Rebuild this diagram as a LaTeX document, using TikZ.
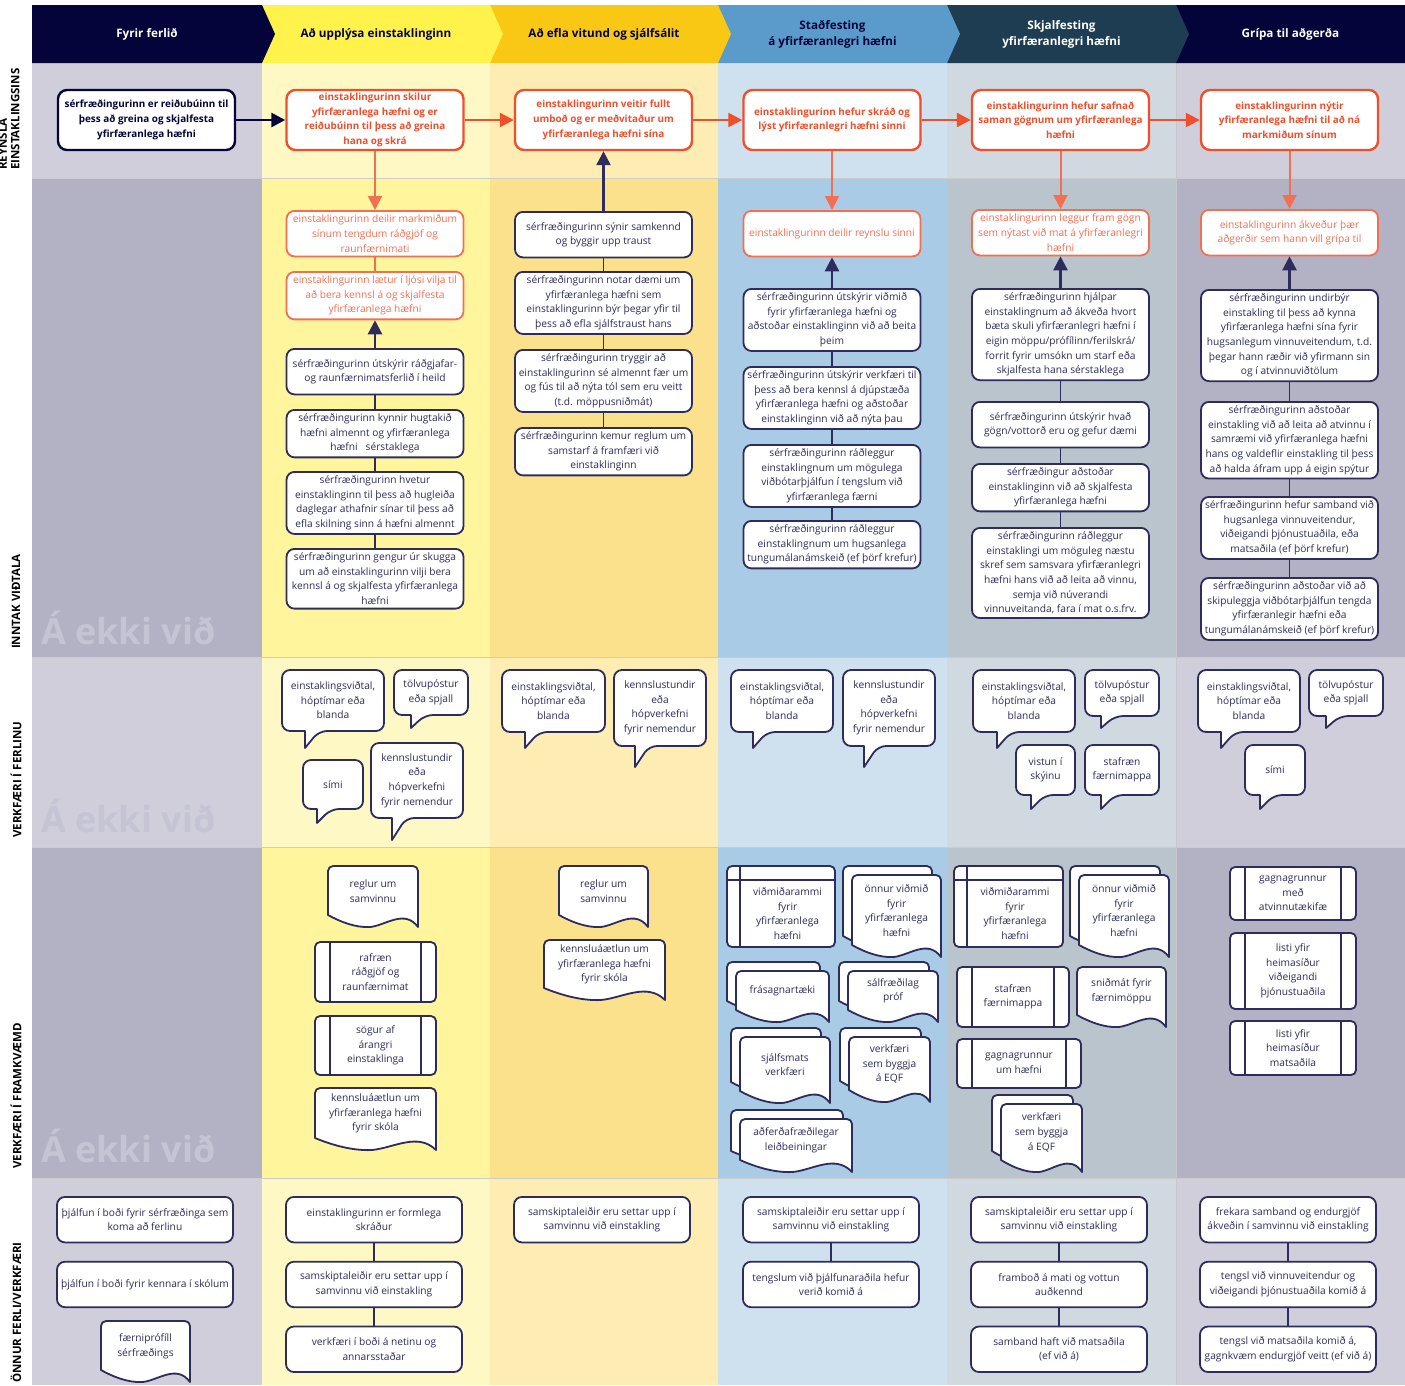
\documentclass[tikz,border=0pt]{standalone}
\usepackage{fontspec}
\setmainfont{Open Sans}
\usetikzlibrary{arrows.meta, positioning, calc}

\definecolor{navy}{HTML}{2D2C5C}
\definecolor{headnavy}{HTML}{04043A}
\definecolor{headyellow}{HTML}{FFF34B}
\definecolor{headgold}{HTML}{F9C814}
\definecolor{headblue}{HTML}{5B9BCB}
\definecolor{headteal}{HTML}{1E3D52}
\definecolor{orangedark}{HTML}{F04F2C}
\definecolor{orangelight}{HTML}{F36F52}
\definecolor{lavA}{HTML}{CFCEDA}
\definecolor{lavB}{HTML}{B3B2C4}
\definecolor{yelA}{HTML}{FEF9C4}
\definecolor{yelB}{HTML}{FEF59D}
\definecolor{goldA}{HTML}{FDEDB2}
\definecolor{goldB}{HTML}{FBE18B}
\definecolor{blueA}{HTML}{CFE1EF}
\definecolor{blueB}{HTML}{AACBE6}
\definecolor{slateA}{HTML}{D0D9DF}
\definecolor{slateB}{HTML}{BAC4CC}
\definecolor{nagray}{HTML}{C5C4D4}

\tikzset{
    startnode/.style={rectangle, rounded corners=9pt, draw=headnavy, fill=white, line width=2.4pt, text=headnavy, minimum width=177pt, minimum height=60pt, inner xsep=1pt, inner ysep=2pt, align=center, font=\fontsize{9.9}{14.7}\selectfont\bfseries},
    goalnode/.style={startnode, draw=orangedark, text=orangedark},
    sharenode/.style={rectangle, rounded corners=8pt, draw=orangelight, fill=white, line width=1.8pt, text=orangelight, minimum width=177pt, minimum height=45.5pt, inner xsep=1pt, inner ysep=4pt, align=center, font=\fontsize{10.2}{14.6}\selectfont, anchor=north},
    navynode/.style={sharenode, draw=navy, text=navy},
    toolline/.style={draw=navy, fill=white, line width=1.8pt, line join=round},
    tooledge/.style={draw=navy, line width=1.8pt},
    tooltext/.style={text=navy, align=center, inner sep=0pt, font=\fontsize{10.2}{14.6}\selectfont},
    myarrow/.style={-{Triangle[length=14pt, width=14pt]}, line width=2.4pt},
    mylink/.style={draw=navy, line width=1.8pt},
    mylabel/.style={rotate=90, anchor=west, inner sep=0pt, font=\fontsize{11.5}{12.5}\selectfont\bfseries},
    headlabel/.style={align=center, font=\fontsize{11.7}{16}\selectfont\bfseries},
    nalabel/.style={anchor=base west, inner sep=0pt, text=nagray, font=\fontsize{36}{40}\selectfont\bfseries}
}

% document shape: x1, y1, x2, y2 (bottom corner)
\newcommand{\docshape}[4]{%
  \pgfmathsetmacro\wA{#1+0.85*(#3-#1)}%
  \pgfmathsetmacro\wB{#1+0.65*(#3-#1)}%
  \pgfmathsetmacro\wC{#1+0.47*(#3-#1)}%
  \pgfmathsetmacro\wD{#1+0.30*(#3-#1)}%
  \pgfmathsetmacro\wE{#1+0.12*(#3-#1)}%
  \draw[toolline] (#1,#4-12) [rounded corners=5pt] -- (#1,#2) -- (#3,#2) -- (#3,#4-10) [sharp corners] -- (#3,#4)
    .. controls (\wA,#4-18) and (\wB,#4-2) .. (\wC,#4)
    .. controls (\wD,#4+1) and (\wE,#4-6) .. (#1,#4-12) -- cycle;}
\newcommand{\docnode}[6]{%
  \docshape{#2}{#3}{#4}{#5}%
  \node[tooltext] (#1) at ({(#2+#4)/2},{(#3+#5-11)/2}) {#6};}
\newcommand{\multinode}[6]{%
  \pgfmathsetmacro\mxa{#2+9}\pgfmathsetmacro\mya{#3+9}%
  \pgfmathsetmacro\mxb{#4-9}\pgfmathsetmacro\myb{#5-9}%
  \docshape{#2}{#3}{\mxb}{\myb}%
  \docshape{\mxa}{\mya}{#4}{#5}%
  \node[tooltext] (#1) at ({(\mxa+#4)/2},{(\mya+#5-11)/2}) {#6};}
\newcommand{\procnode}[6]{%
  \draw[toolline, rounded corners=5pt] (#2,#3) rectangle (#4,#5);
  \draw[tooledge] (#2+15,#3) -- (#2+15,#5) (#4-15,#3) -- (#4-15,#5);
  \node[tooltext] (#1) at ({(#2+#4)/2},{(#3+#5)/2}) {#6};}
\newcommand{\storenode}[6]{%
  \draw[toolline, rounded corners=5pt] (#2,#3) rectangle (#4,#5);
  \draw[tooledge] (#2,#3+14) -- (#4,#3+14) (#2+13,#3) -- (#2+13,#5);
  \node[tooltext] (#1) at ({(#2+13+#4)/2},{(#3+14+#5)/2}) {#6};}
\newcommand{\bubblenode}[8]{%
  \draw[toolline] (#6,#5) [rounded corners=8pt] -- (#2,#5) -- (#2,#3) -- (#4,#3) -- (#4,#5) -- ({#6+14},#5) [sharp corners] -- (#6,#7) -- cycle;
  \node[tooltext] (#1) at ({(#2+#4)/2},{(#3+#5)/2}) {#8};}

\begin{document}
\begin{tikzpicture}[x=1pt, y=-1pt, node distance=17.5pt]
    \useasboundingbox (0,0) rectangle (1405,1385);

        % ------------------
        % lanes
        % ------------------

        \foreach \xa/\xb/\ca/\cb in {32/262/lavA/lavB, 262/490/yelA/yelB, 490/718/goldA/goldB, 718/947/blueA/blueB, 947/1176/slateA/slateB, 1176/1405/lavA/lavB}{
            \fill[\ca] (\xa,63) rectangle (\xb,178);
            \fill[\cb] (\xa,178) rectangle (\xb,657);
            \fill[\ca] (\xa,657) rectangle (\xb,847);
            \fill[\cb] (\xa,847) rectangle (\xb,1178);
            \fill[\ca] (\xa,1178) rectangle (\xb,1385);
        }
        \foreach \yy in {178,657,847,1178}
            \draw[black!20, line width=.6pt] (32,\yy) -- (1405,\yy);
        \draw[black!22, line width=.6pt] (1176,63) -- (1176,1385);

        \foreach \i/\xa/\xb/\hcol/\tcol/\htext in {5/1176/1405/headnavy/white/{Grípa til aðgerða}, 4/947/1176/headteal/white/{Skjalfesting\\yfirfæranlegri hæfni}, 3/718/947/headblue/headnavy/{Staðfesting\\á yfirfæranlegri hæfni}, 2/490/718/headgold/headnavy/{Að efla vitund og sjálfsálit}, 1/262/490/headyellow/headnavy/{Að upplýsa einstaklinginn}, 0/32/262/headnavy/white/{Fyrir ferlið}}{
            \fill[\hcol] (\xa,5) -- (\xb,5) -- (\xb+13,34) -- (\xb,63) -- (\xa,63) -- cycle;
            \node[headlabel, text=\tcol] (h\i) at ({(\xa+\xb)/2},34) {\htext};
        }

        \node[mylabel, align=left] (lab1) at (9,170) {REYNSLA\\EINSTAKLINGSINS};
        \node[mylabel] (lab2) at (16,649) {INNTAK VIÐTALA};
        \node[mylabel] (lab3) at (16,838) {VERKFÆRI Í FERLINU};
        \node[mylabel] (lab4) at (16,1169) {VERKFÆRI Í FRAMKVÆMD};
        \node[mylabel] (lab5) at (16,1383) {ÖNNUR FERLI/VERKFÆRI};

        \node[nalabel] (na2) at (41,644) {Á ekki við};
        \node[nalabel] (na3) at (41,832) {Á ekki við};
        \node[nalabel] (na4) at (41,1162) {Á ekki við};

        % ------------------
        % nodes
        % ------------------

        \node[startnode] (start) at (146.5,120) {sérfræðingurinn er reiðubúinn til\\þess að greina og skjalfesta\\yfirfæranlega hæfni};
        \node[goalnode] (goal1) at (375,120) {einstaklingurinn skilur\\yfirfæranlega hæfni og er\\reiðubúinn til þess að greina\\hana og skrá};
        \node[goalnode] (goal2) at (603.5,120) {einstaklingurinn veitir fullt\\umboð og er meðvitaður um\\yfirfæranlega hæfni sína};
        \node[goalnode] (goal3) at (832,120) {einstaklingurinn hefur skráð og\\lýst yfirfæranlegri hæfni sinni};
        \node[goalnode] (goal4) at (1060.5,120) {einstaklingurinn hefur safnað\\saman gögnum um yfirfæranlega\\hæfni};
        \node[goalnode] (goal5) at (1289.5,120) {einstaklingurinn nýtir\\yfirfæranlega hæfni til að ná\\markmiðum sínum};

        \node[sharenode] (share1a) at (375,210) {einstaklingurinn deilir markmiðum\\sínum tengdum ráðgjöf og\\raunfærnimati};
        \node[sharenode] (share1b) at (375,271) {einstaklingurinn lætur í ljósi vilja til\\að bera kennsl á og skjalfesta\\yfirfæranlega hæfni};
        \node[navynode] (step11) at (375,348) {sérfræðingurinn útskýrir ráðgjafar-\\og raunfærnimatsferlið í heild};
        \node[navynode] (step12) at (375,409) {sérfræðingurinn kynnir hugtakið\\hæfni almennt og yfirfæranlega\\hæfni~~~sérstaklega};
        \node[navynode] (step13) at (375,471) {sérfræðingurinn hvetur\\einstaklinginn til þess að hugleiða\\daglegar athafnir sínar til þess að\\efla skilning sinn á hæfni almennt};
        \node[navynode] (step14) at (375,548) {sérfræðingurinn gengur úr skugga\\um að einstaklingurinn vilji bera\\kennsl á og skjalfesta yfirfæranlega\\hæfni};

        \node[navynode] (step21) at (603.5,211) {sérfræðingurinn sýnir samkennd\\og byggir upp traust};
        \node[navynode] (step22) at (603.5,271) {sérfræðingurinn notar dæmi um\\yfirfæranlega hæfni sem\\einstaklingurinn býr þegar yfir til\\þess að efla sjálfstraust hans};
        \node[navynode] (step23) at (603.5,349) {sérfræðingurinn tryggir að\\einstaklingurinn sé almennt fær um\\og fús til að nýta tól sem eru veitt\\(t.d. möppusniðmát)};
        \node[navynode] (step24) at (603.5,427) {sérfræðingurinn kemur reglum um\\samstarf á framfæri við\\einstaklinginn};

        \node[sharenode] (share3) at (832,210) {einstaklingurinn deilir reynslu sinni};
        \node[navynode] (step31) at (832,288) {sérfræðingurinn útskýrir viðmið\\fyrir yfirfæranlega hæfni og\\aðstoðar einstaklinginn við að beita\\þeim};
        \node[navynode] (step32) at (832,366) {sérfræðingurinn útskýrir verkfæri til\\þess að bera kennsl á djúpstæða\\yfirfæranlega hæfni og aðstoðar\\einstaklinginn við að nýta þau};
        \node[navynode] (step33) at (832,444) {sérfræðingurinn ráðleggur\\einstaklingnum um mögulega\\viðbótarþjálfun í tengslum við\\yfirfæranlega færni};
        \node[navynode] (step34) at (832,520) {sérfræðingurinn ráðleggur\\einstaklingnum um hugsanlega\\tungumálanámskeið (ef þörf krefur)};

        \node[sharenode] (share4) at (1060.5,209) {einstaklingurinn leggur fram gögn\\sem nýtast við mat á yfirfæranlegri\\hæfni};
        \node[navynode] (step41) at (1060.5,288) {sérfræðingurinn hjálpar\\einstaklingnum að ákveða hvort\\bæta skuli yfirfæranlegri hæfni í\\eigin möppu/prófílinn/ferilskrá/\\forrit fyrir umsókn um starf eða\\skjalfesta hana sérstaklega};
        \node[navynode] (step42) at (1060.5,401) {sérfræðingurinn útskýrir hvað\\gögn/vottorð eru og gefur dæmi};
        \node[navynode] (step43) at (1060.5,463) {sérfræðingur aðstoðar\\einstaklinginn við að skjalfesta\\yfirfæranlega hæfni};
        \node[navynode] (step44) at (1060.5,527) {sérfræðingurinn ráðleggur\\einstaklingi um möguleg næstu\\skref sem samsvara yfirfæranlegri\\hæfni hans við að leita að vinnu,\\semja við núverandi\\vinnuveitanda, fara í mat o.s.frv.};

        \node[sharenode] (share5) at (1289.5,209) {einstaklingurinn ákveður þær\\aðgerðir sem hann vill grípa til};
        \node[navynode] (step51) at (1289.5,289) {sérfræðingurinn undirbýr\\einstakling til þess að kynna\\yfirfæranlega hæfni sína fyrir\\hugsanlegum vinnuveitendum, t.d.\\þegar hann ræðir við yfirmann sin\\og í atvinnuviðtölum};
        \node[navynode] (step52) at (1289.5,401) {sérfræðingurinn aðstoðar\\einstakling við að leita að atvinnu í\\samræmi við yfirfæranlega hæfni\\hans og valdeflir einstakling til þess\\að halda áfram upp á eigin spýtur};
        \node[navynode] (step53) at (1289.5,496) {sérfræðingurinn hefur samband við\\hugsanlega vinnuveitendur,\\viðeigandi þjónustuaðila, eða\\matsaðila (ef þörf krefur)};
        \node[navynode] (step54) at (1289.5,577) {sérfræðingurinn aðstoðar við að\\skipuleggja viðbótarþjálfun tengda\\yfirfæranlegir hæfni eða\\tungumálanámskeið (ef þörf krefur)};

        % tools in the process
        \bubblenode{talk11}{282}{670}{384}{731}{305}{748}{einstaklingsviðtal,\\hóptímar eða\\blanda}
        \bubblenode{talk12}{394}{670}{468}{715}{411}{728}{tölvupóstur\\eða spjall}
        \bubblenode{talk13}{303}{760}{363}{809}{317}{823}{sími}
        \bubblenode{talk14}{371}{743}{463}{818}{392}{840}{kennslustundir\\eða\\hópverkefni\\fyrir nemendur}
        \bubblenode{talk21}{502}{670}{605}{732}{525}{748}{einstaklingsviðtal,\\hóptímar eða\\blanda}
        \bubblenode{talk22}{614}{670}{706}{746}{635}{767}{kennslustundir\\eða\\hópverkefni\\fyrir nemendur}
        \bubblenode{talk31}{731}{670}{833}{732}{753}{748}{einstaklingsviðtal,\\hóptímar eða\\blanda}
        \bubblenode{talk32}{843}{670}{935}{746}{864}{767}{kennslustundir\\eða\\hópverkefni\\fyrir nemendur}
        \bubblenode{talk41}{973}{670}{1075}{732}{997}{748}{einstaklingsviðtal,\\hóptímar eða\\blanda}
        \bubblenode{talk42}{1085}{670}{1159}{716}{1101}{728}{tölvupóstur\\eða spjall}
        \bubblenode{talk43}{1016}{745}{1075}{795}{1031}{809}{vistun í\\skýinu}
        \bubblenode{talk44}{1085}{745}{1159}{795}{1101}{809}{stafræn\\færnimappa}
        \bubblenode{talk51}{1198}{670}{1300}{732}{1221}{748}{einstaklingsviðtal,\\hóptímar eða\\blanda}
        \bubblenode{talk52}{1309}{670}{1383}{716}{1326}{728}{tölvupóstur\\eða spjall}
        \bubblenode{talk53}{1245}{745}{1305}{795}{1260}{809}{sími}

        % tools in practice
        \docnode{tool11}{328}{866}{418}{927}{reglur um\\samvinnu}
        \procnode{tool12}{315}{942}{436}{1002}{rafræn\\ráðgjöf og\\raunfærnimat}
        \procnode{tool13}{315}{1016}{436}{1075}{sögur af\\árangri\\einstaklinga}
        \docnode{tool14}{315}{1088}{436}{1150}{kennsluáætlun um\\yfirfæranlega hæfni\\fyrir skóla}
        \docnode{tool21}{559}{866}{648}{927}{reglur um\\samvinnu}
        \docnode{tool22}{544}{940}{665}{1000}{kennsluáætlun um\\yfirfæranlega hæfni\\fyrir skóla}
        \storenode{tool31}{727}{866}{835}{947}{viðmiðarammi\\fyrir\\yfirfæranlega\\hæfni}
        \multinode{tool32}{843}{866}{941}{957}{önnur viðmið\\fyrir\\yfirfæranlega\\hæfni}
        \multinode{tool33}{727}{962}{829}{1022}{frásagnartæki}
        \multinode{tool34}{839}{962}{938}{1022}{sálfræðilag\\próf}
        \multinode{tool35}{731}{1028}{830}{1103}{sjálfsmats\\verkfæri}
        \multinode{tool36}{840}{1028}{930}{1102}{verkfæri\\sem byggja\\á EQF}
        \multinode{tool37}{731}{1110}{852}{1172}{aðferðafræðilegar\\leiðbeiningar}
        \storenode{tool41}{954}{866}{1063}{947}{viðmiðarammi\\fyrir\\yfirfæranlega\\hæfni}
        \multinode{tool42}{1070}{866}{1169}{957}{önnur viðmið\\fyrir\\yfirfæranlega\\hæfni}
        \procnode{tool43}{957}{967}{1069}{1027}{stafræn\\færnimappa}
        \docnode{tool44}{1077}{967}{1166}{1027}{sniðmát fyrir\\færnimöppu}
        \procnode{tool45}{957}{1039}{1081}{1088}{gagnagrunnur\\um hæfni}
        \multinode{tool46}{992}{1095}{1082}{1172}{verkfæri\\sem byggja\\á EQF}
        \procnode{tool51}{1230}{867}{1356}{920}{gagnagrunnur\\með\\atvinnutækifæ}
        \procnode{tool52}{1230}{933}{1356}{1009}{listi yfir\\heimasíður\\viðeigandi\\þjónustuaðila}
        \procnode{tool53}{1230}{1021}{1356}{1075}{listi yfir\\heimasíður\\matsaðila}

        % other processes
        \node[navynode, minimum width=176pt] (other01) at (145,1196) {þjálfun í boði fyrir sérfræðinga sem\\koma að ferlinu};
        \node[navynode, minimum width=176pt, below=of other01] (other02) {þjálfun í boði fyrir kennara í skólum};
        \docnode{other03}{101}{1321}{190}{1382}{færniprófíll\\sérfræðings}

        \node[navynode, minimum width=176pt] (other11) at (374,1196) {einstaklingurinn er formlega\\skráður};
        \node[navynode, minimum width=176pt, below=of other11] (other12) {samskiptaleiðir eru settar upp í\\samvinnu við einstakling};
        \node[navynode, minimum width=176pt, below=of other12] (other13) {verkfæri í boði á netinu og\\annarsstaðar};

        \node[navynode, minimum width=176pt] (other21) at (602,1196) {samskiptaleiðir eru settar upp í\\samvinnu við einstakling};

        \node[navynode, minimum width=176pt] (other31) at (831,1196) {samskiptaleiðir eru settar upp í\\samvinnu við einstakling};
        \node[navynode, minimum width=176pt, below=of other31] (other32) {tengslum við þjálfunaraðila hefur\\verið komið á};

        \node[navynode, minimum width=176pt] (other41) at (1059,1196) {samskiptaleiðir eru settar upp í\\samvinnu við einstakling};
        \node[navynode, minimum width=176pt, below=of other41] (other42) {framboð á mati og vottun\\auðkennd};
        \node[navynode, minimum width=176pt, below=of other42] (other43) {samband haft við matsaðila\\(ef við á)};

        \node[navynode, minimum width=176pt] (other51) at (1288,1196) {frekara samband og endurgjöf\\ákveðin í samvinnu við einstakling};
        \node[navynode, minimum width=176pt, below=of other51] (other52) {tengsl við vinnuveitendur og\\viðeigandi þjónustuaðila komið á};
        \node[navynode, minimum width=176pt, below=of other52] (other53) {tengsl við matsaðila komið á,\\gagnkvæm endurgjöf veitt (ef við á)};

        % ------------------
        % arrows
        % ------------------

        \draw[myarrow, headnavy, line width=2.8pt] (start) -- (goal1);
        \draw[myarrow, orangedark] (goal1) -- (goal2);
        \draw[myarrow, orangedark] (goal2) -- (goal3);
        \draw[myarrow, orangedark] (goal3) -- (goal4);
        \draw[myarrow, orangedark] (goal4) -- (goal5);

        \draw[myarrow, orangelight, line width=2pt] (goal1) -- (share1a);
        \draw[myarrow, orangelight, line width=2pt] (goal3) -- (share3);
        \draw[myarrow, orangelight, line width=2pt] (goal4) -- (share4);
        \draw[myarrow, orangelight, line width=2pt] (goal5) -- (share5);

        \draw[myarrow, navy] (step11) -- (share1b);
        \draw[myarrow, navy] (step21) -- (goal2);
        \draw[myarrow, navy] (step31) -- (share3);
        \draw[myarrow, navy] (step41) -- (share4);
        \draw[myarrow, navy] (step51) -- (share5);

        \draw[mylink, orangelight] (share1a) -- (share1b);
        \foreach \a/\b in {step11/step12, step12/step13, step13/step14, step21/step22, step22/step23, step23/step24, step31/step32, step32/step33, step33/step34, step41/step42, step42/step43, step43/step44, step51/step52, step52/step53, step53/step54, other11/other12, other12/other13, other31/other32, other41/other42, other42/other43, other51/other52, other52/other53}
            \draw[mylink] (\a) -- (\b);

\end{tikzpicture}
\end{document}
